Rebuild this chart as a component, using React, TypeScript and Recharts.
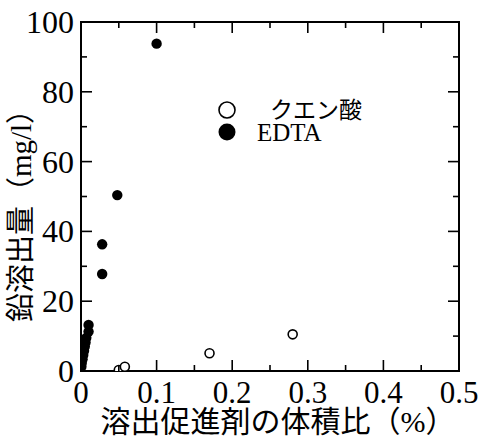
import { Label, Legend, ReferenceArea, Scatter, ScatterChart, XAxis, YAxis } from "recharts";

const citricX = [0.05, 0.058, 0.17, 0.28];
const citricY = [0.3, 1.2, 5.1, 10.5];
const edtaX = [0.0005, 0.001, 0.002, 0.003, 0.004, 0.005, 0.006, 0.007, 0.01, 0.01, 0.028, 0.028, 0.048, 0.1];
const edtaY = [1.2, 2.3, 3.4, 4.6, 5.8, 7, 8.2, 9.5, 11.3, 13.2, 27.8, 36.3, 50.4, 93.8];

const xTicks = [0, 0.1, 0.2, 0.3, 0.4, 0.5];
const xMinorTicks = [0.05, 0.15, 0.25, 0.35, 0.45];
const yTicks = [0, 20, 40, 60, 80, 100];
const yMinorTicks = [10, 30, 50, 70, 90];

const seriesNames = ["クエン酸", "EDTA"];
const xTitle = "溶出促進剤の体積比（%）";
const yTitle = "鉛溶出量（mg/l）";

const citric = citricX.map((x, i) => ({ x, y: citricY[i] }));
const edta = edtaX.map((x, i) => ({ x, y: edtaY[i] }));

// chart box
const W = 478;
const H = 439;
const M = { top: 22, right: 19, left: 0, bottom: 0 };
const PLOT_RIGHT = W - M.right;

const FONT = "'Liberation Serif', 'Noto Sans CJK JP', serif";
const line = { stroke: "#000", strokeWidth: 2 };
const MAJOR = 11;
const MINOR = 6;

// bottom labels + inward ticks on bottom and top
const XTick = ({ x, y, payload }: any) => {
  const major = xTicks.includes(payload.value);
  const len = major ? MAJOR : MINOR;
  return (
    <g>
      <line x1={x} x2={x} y1={y} y2={y - len} stroke="#000" strokeWidth={1.6} />
      <line x1={x} x2={x} y1={M.top} y2={M.top + len} stroke="#000" strokeWidth={1.6} />
      {major && (
        <text x={x} y={y + 21} textAnchor="middle" dominantBaseline="central" fontFamily={FONT} fontSize={31} fill="#000">
          {String(payload.value)}
        </text>
      )}
    </g>
  );
};

// left labels + inward ticks on left and right
const YTick = ({ x, y, payload }: any) => {
  const major = yTicks.includes(payload.value);
  const len = major ? MAJOR : MINOR;
  return (
    <g>
      <line x1={x} x2={x + len} y1={y} y2={y} stroke="#000" strokeWidth={1.6} />
      <line x1={PLOT_RIGHT} x2={PLOT_RIGHT - len} y1={y} y2={y} stroke="#000" strokeWidth={1.6} />
      {major && (
        <text x={x - 7} y={y} textAnchor="end" dominantBaseline="central" fontFamily={FONT} fontSize={32} fill="#000">
          {String(payload.value)}
        </text>
      )}
    </g>
  );
};

const openDot = ({ cx, cy }: any) => <circle cx={cx} cy={cy} r={4.5} fill="#fff" stroke="#000" strokeWidth={1.6} />;
const filledDot = ({ cx, cy }: any) => <circle cx={cx} cy={cy} r={5.2} fill="#000" />;

const renderLegend = ({ payload }: any) => {
  const items = [...(payload || [])].sort(
    (a: any, b: any) => seriesNames.indexOf(a.value) - seriesNames.indexOf(b.value)
  );
  return (
    <svg width={170} height={50} style={{ overflow: "visible" }}>
      {items.map((p: any, i: number) => (
        <g key={p.value} transform={`translate(0, ${14 + i * 22})`}>
          {i === 0 ? (
            <circle cx={15} cy={0} r={8} fill="#fff" stroke="#000" strokeWidth={1.6} />
          ) : (
            <circle cx={15} cy={0} r={8.5} fill="#000" />
          )}
          <text
            x={i === 0 ? 58 : 45}
            y={0}
            dominantBaseline="central"
            fontFamily={FONT}
            fontSize={i === 0 ? 23 : 25}
            fill="#000"
          >
            {p.value}
          </text>
        </g>
      ))}
    </svg>
  );
};

export default function App() {
  return (
    <div style={{ position: "absolute", left: 0, top: 0, width: W, height: H, background: "#fff" }}>
      <ScatterChart width={W} height={H} margin={M}>
        <XAxis
          xAxisId="xl"
          type="number"
          dataKey="x"
          domain={[0, 0.5]}
          allowDataOverflow
          ticks={[...xTicks, ...xMinorTicks]}
          interval={0}
          height={68}
          tickSize={0}
          tickMargin={0}
          tickLine={false}
          axisLine={line}
          tick={<XTick />}
        >
          <Label
            content={({ viewBox }: any) => (
              <text
                x={viewBox.x + viewBox.width / 2 + 8}
                y={viewBox.y + 50}
                textAnchor="middle"
                dominantBaseline="central"
                fontFamily={FONT}
                fontSize={30}
                fill="#000"
              >
                {xTitle}
              </text>
            )}
          />
        </XAxis>
        <YAxis
          yAxisId="yl"
          type="number"
          dataKey="y"
          domain={[0, 100]}
          allowDataOverflow
          ticks={[...yTicks, ...yMinorTicks]}
          interval={0}
          width={81}
          tickSize={0}
          tickMargin={0}
          tickLine={false}
          axisLine={line}
          tick={<YTick />}
        >
          <Label
            content={({ viewBox }: any) => {
              const cx = viewBox.x + 21;
              const cy = viewBox.y + viewBox.height / 2 + 12;
              return (
                <text
                  transform={`translate(${cx}, ${cy}) rotate(-90)`}
                  textAnchor="middle"
                  dominantBaseline="central"
                  fontFamily={FONT}
                  fontSize={29}
                  fill="#000"
                >
                  {yTitle}
                </text>
              );
            }}
          />
        </YAxis>

        {/* plot frame */}
        <ReferenceArea
          xAxisId="xl"
          yAxisId="yl"
          x1={xTicks[0]}
          x2={xTicks[xTicks.length - 1]}
          y1={yTicks[0]}
          y2={yTicks[yTicks.length - 1]}
          fill="none"
          fillOpacity={0}
          stroke="#000"
          strokeWidth={2}
          strokeOpacity={1}
        />

        <Legend
          content={renderLegend}
          wrapperStyle={{ position: "absolute", left: 212, top: 96, width: 0, height: 0, overflow: "visible" }}
        />

        <Scatter name={seriesNames[0]} data={citric} xAxisId="xl" yAxisId="yl" shape={openDot} isAnimationActive={false} />
        <Scatter name={seriesNames[1]} data={edta} xAxisId="xl" yAxisId="yl" shape={filledDot} isAnimationActive={false} />
      </ScatterChart>
    </div>
  );
}
